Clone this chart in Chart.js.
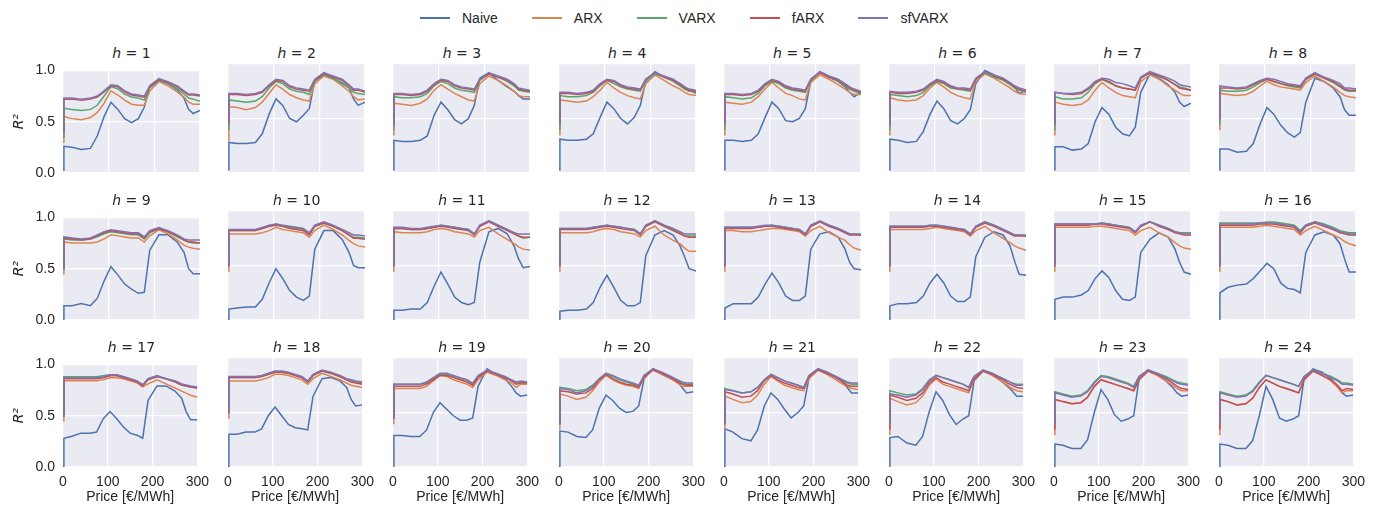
<!DOCTYPE html>
<html>
<head>
<meta charset="utf-8">
<script src="https://cdn.jsdelivr.net/npm/chart.js@4.4.0/dist/chart.umd.min.js"></script>
<style>
  body { margin: 0; background: #fff; width: 1387px; height: 512px; position: relative; overflow: hidden;
         font-family: "Liberation Sans", Arial, sans-serif; color: #262626; }
  canvas { position: absolute; }
  .ttl { position: absolute; width: 137px; text-align: center; font-family: "DejaVu Sans"; font-size: 14px; line-height: 16px; color: #262626; }
  #legend { position: absolute; left: 420px; top: 9px; display: flex; align-items: center; font-size: 14px; line-height: 18px; }
  .item { display: flex; align-items: center; margin-right: 34px; }
  .swatch { width: 30px; height: 2px; margin-right: 12px; }
</style>
</head>
<body>
<div id="legend"></div>
<script>
// prices on the x axis, horizons, models and ticks
var prices = [0, 2, 20, 40, 60, 75, 90, 105, 120, 135, 150, 165, 178, 190, 210, 230, 250, 265, 275, 285, 300];
var horizons = [1, 2, 3, 4, 5, 6, 7, 8, 9, 10, 11, 12, 13, 14, 15, 16, 17, 18, 19, 20, 21, 22, 23, 24];
var models = ["Naive", "ARX", "VARX", "fARX", "sfVARX"];
var colors = ["#4c72b0", "#dd8452", "#55a868", "#c44e52", "#8172b3"];
var xTicks = [0, 100, 200, 300];
var yTicks = [0, 0.5, 1];

// R^2 per horizon, one row per h
var naive = [
  [0.03,0.26,0.25,0.23,0.24,0.36,0.55,0.69,0.62,0.53,0.49,0.53,0.64,0.85,0.91,0.87,0.81,0.73,0.62,0.58,0.61],
  [0.03,0.28,0.27,0.27,0.28,0.36,0.54,0.68,0.62,0.50,0.47,0.53,0.59,0.85,0.92,0.87,0.82,0.78,0.68,0.62,0.65],
  [0.03,0.30,0.29,0.29,0.30,0.34,0.53,0.65,0.58,0.49,0.45,0.50,0.62,0.87,0.92,0.85,0.79,0.75,0.71,0.68,0.68],
  [0.03,0.31,0.30,0.30,0.31,0.36,0.51,0.65,0.59,0.50,0.45,0.51,0.62,0.84,0.93,0.88,0.85,0.82,0.79,0.76,0.73],
  [0.03,0.30,0.30,0.29,0.30,0.36,0.51,0.65,0.59,0.48,0.47,0.50,0.59,0.84,0.93,0.88,0.84,0.79,0.74,0.70,0.74],
  [0.03,0.31,0.30,0.28,0.29,0.38,0.54,0.66,0.59,0.48,0.45,0.50,0.58,0.82,0.94,0.90,0.86,0.82,0.79,0.73,0.76],
  [0.03,0.24,0.24,0.21,0.22,0.27,0.47,0.60,0.54,0.42,0.36,0.34,0.42,0.74,0.91,0.87,0.81,0.74,0.65,0.61,0.64],
  [0.03,0.22,0.22,0.19,0.20,0.27,0.45,0.60,0.54,0.44,0.37,0.33,0.37,0.65,0.87,0.84,0.78,0.70,0.58,0.53,0.53],
  [0.00,0.14,0.14,0.16,0.14,0.21,0.38,0.52,0.44,0.35,0.30,0.26,0.27,0.68,0.83,0.83,0.76,0.66,0.50,0.45,0.45],
  [0.00,0.10,0.11,0.12,0.12,0.19,0.34,0.47,0.38,0.27,0.21,0.18,0.22,0.65,0.82,0.82,0.74,0.62,0.50,0.48,0.48],
  [0.00,0.09,0.09,0.10,0.10,0.16,0.31,0.44,0.33,0.21,0.16,0.14,0.16,0.53,0.81,0.84,0.79,0.68,0.56,0.48,0.49],
  [0.00,0.08,0.09,0.09,0.10,0.16,0.30,0.41,0.30,0.18,0.13,0.13,0.16,0.59,0.78,0.82,0.78,0.68,0.58,0.47,0.45],
  [0.00,0.11,0.15,0.15,0.15,0.21,0.33,0.43,0.34,0.22,0.18,0.18,0.22,0.65,0.79,0.81,0.76,0.65,0.53,0.47,0.46],
  [0.00,0.13,0.15,0.15,0.16,0.22,0.34,0.42,0.34,0.22,0.17,0.17,0.21,0.58,0.76,0.81,0.78,0.68,0.54,0.42,0.41],
  [0.00,0.19,0.21,0.21,0.23,0.27,0.38,0.45,0.39,0.27,0.19,0.18,0.21,0.62,0.74,0.80,0.76,0.65,0.53,0.44,0.42],
  [0.00,0.25,0.30,0.32,0.33,0.38,0.45,0.52,0.47,0.34,0.29,0.28,0.25,0.62,0.78,0.81,0.78,0.70,0.56,0.44,0.44],
  [0.00,0.28,0.30,0.33,0.33,0.34,0.47,0.54,0.47,0.39,0.33,0.31,0.28,0.65,0.79,0.79,0.74,0.67,0.54,0.46,0.46],
  [0.00,0.30,0.30,0.32,0.32,0.35,0.47,0.55,0.47,0.39,0.36,0.35,0.34,0.65,0.81,0.82,0.79,0.73,0.62,0.56,0.57],
  [0.00,0.29,0.29,0.28,0.28,0.34,0.50,0.59,0.53,0.47,0.43,0.43,0.45,0.74,0.90,0.85,0.81,0.74,0.68,0.65,0.66],
  [0.00,0.33,0.32,0.28,0.27,0.34,0.54,0.66,0.61,0.54,0.50,0.51,0.56,0.81,0.90,0.85,0.81,0.78,0.73,0.68,0.69],
  [0.00,0.35,0.32,0.26,0.24,0.34,0.56,0.68,0.62,0.53,0.45,0.50,0.56,0.82,0.90,0.87,0.82,0.78,0.73,0.68,0.68],
  [0.00,0.27,0.28,0.22,0.20,0.28,0.51,0.69,0.61,0.48,0.39,0.44,0.47,0.79,0.88,0.85,0.79,0.74,0.70,0.65,0.65],
  [0.00,0.21,0.20,0.17,0.17,0.25,0.50,0.71,0.62,0.48,0.42,0.44,0.47,0.81,0.89,0.85,0.79,0.73,0.68,0.65,0.66],
  [0.00,0.21,0.20,0.17,0.17,0.24,0.47,0.74,0.62,0.45,0.42,0.44,0.47,0.81,0.90,0.87,0.81,0.74,0.68,0.65,0.66]
];
var arx = [
  [0.30,0.55,0.53,0.52,0.54,0.59,0.68,0.80,0.76,0.71,0.67,0.66,0.66,0.80,0.89,0.85,0.79,0.74,0.69,0.67,0.67],
  [0.30,0.61,0.60,0.58,0.60,0.65,0.73,0.81,0.77,0.72,0.69,0.67,0.66,0.82,0.89,0.86,0.80,0.75,0.70,0.67,0.68],
  [0.35,0.64,0.63,0.62,0.64,0.68,0.76,0.81,0.77,0.73,0.70,0.67,0.66,0.82,0.89,0.85,0.80,0.75,0.71,0.70,0.70],
  [0.35,0.67,0.66,0.65,0.66,0.70,0.76,0.83,0.78,0.74,0.71,0.69,0.68,0.82,0.90,0.85,0.80,0.77,0.74,0.72,0.71],
  [0.35,0.65,0.64,0.63,0.65,0.70,0.77,0.83,0.78,0.73,0.71,0.68,0.67,0.83,0.90,0.86,0.81,0.77,0.74,0.72,0.72],
  [0.35,0.69,0.67,0.66,0.67,0.71,0.78,0.83,0.79,0.74,0.71,0.69,0.68,0.84,0.91,0.87,0.82,0.78,0.75,0.73,0.72],
  [0.35,0.65,0.63,0.62,0.63,0.67,0.76,0.83,0.78,0.74,0.71,0.70,0.69,0.84,0.90,0.86,0.80,0.76,0.73,0.71,0.71],
  [0.40,0.73,0.72,0.71,0.72,0.75,0.80,0.84,0.81,0.79,0.78,0.77,0.76,0.83,0.89,0.84,0.79,0.74,0.71,0.70,0.69],
  [0.45,0.76,0.75,0.75,0.75,0.76,0.79,0.83,0.82,0.81,0.80,0.80,0.76,0.82,0.88,0.84,0.78,0.73,0.71,0.70,0.69],
  [0.45,0.79,0.79,0.79,0.79,0.80,0.82,0.85,0.83,0.82,0.81,0.80,0.76,0.82,0.87,0.83,0.78,0.73,0.70,0.68,0.67],
  [0.45,0.81,0.80,0.80,0.80,0.81,0.83,0.84,0.83,0.81,0.80,0.79,0.76,0.82,0.85,0.79,0.74,0.70,0.67,0.65,0.64],
  [0.45,0.80,0.80,0.80,0.80,0.81,0.83,0.84,0.83,0.81,0.80,0.79,0.76,0.82,0.86,0.78,0.73,0.70,0.66,0.63,0.63],
  [0.45,0.82,0.82,0.81,0.81,0.82,0.83,0.84,0.84,0.83,0.82,0.81,0.77,0.82,0.86,0.80,0.76,0.73,0.69,0.66,0.64],
  [0.45,0.83,0.83,0.83,0.83,0.83,0.84,0.85,0.84,0.83,0.82,0.81,0.77,0.82,0.86,0.80,0.75,0.71,0.68,0.66,0.64],
  [0.45,0.85,0.85,0.85,0.85,0.85,0.86,0.86,0.85,0.84,0.83,0.82,0.78,0.82,0.85,0.80,0.76,0.71,0.68,0.66,0.65],
  [0.45,0.85,0.85,0.85,0.85,0.85,0.86,0.87,0.86,0.85,0.84,0.83,0.78,0.82,0.86,0.82,0.78,0.75,0.72,0.70,0.68],
  [0.45,0.84,0.84,0.84,0.84,0.84,0.85,0.87,0.87,0.86,0.84,0.82,0.78,0.81,0.85,0.81,0.77,0.74,0.72,0.70,0.68],
  [0.45,0.79,0.79,0.79,0.79,0.80,0.82,0.85,0.85,0.84,0.82,0.80,0.76,0.81,0.86,0.83,0.80,0.77,0.75,0.74,0.73],
  [0.40,0.72,0.72,0.72,0.72,0.74,0.79,0.84,0.83,0.80,0.78,0.76,0.73,0.80,0.87,0.84,0.80,0.77,0.73,0.76,0.76],
  [0.35,0.67,0.65,0.62,0.64,0.70,0.78,0.84,0.80,0.77,0.75,0.74,0.72,0.82,0.89,0.85,0.81,0.77,0.74,0.74,0.74],
  [0.35,0.65,0.62,0.59,0.60,0.66,0.76,0.83,0.79,0.75,0.73,0.71,0.70,0.81,0.89,0.85,0.80,0.76,0.74,0.72,0.71],
  [0.30,0.63,0.60,0.57,0.59,0.65,0.75,0.81,0.76,0.74,0.72,0.70,0.68,0.80,0.88,0.84,0.79,0.75,0.72,0.70,0.69],
  [0.30,0.62,0.60,0.58,0.59,0.64,0.74,0.80,0.78,0.76,0.74,0.72,0.70,0.80,0.88,0.84,0.79,0.75,0.72,0.70,0.70],
  [0.30,0.62,0.60,0.57,0.58,0.63,0.73,0.80,0.77,0.74,0.72,0.70,0.68,0.80,0.88,0.84,0.79,0.73,0.68,0.70,0.70]
];
var varx = [
  [0.35,0.63,0.62,0.61,0.62,0.66,0.75,0.84,0.82,0.77,0.74,0.73,0.71,0.83,0.90,0.87,0.82,0.77,0.73,0.72,0.70],
  [0.40,0.67,0.66,0.65,0.66,0.70,0.78,0.84,0.82,0.77,0.75,0.74,0.72,0.84,0.90,0.87,0.83,0.78,0.74,0.73,0.72],
  [0.40,0.70,0.69,0.69,0.70,0.73,0.80,0.84,0.82,0.78,0.76,0.75,0.74,0.85,0.91,0.88,0.84,0.80,0.76,0.75,0.74],
  [0.40,0.71,0.70,0.70,0.71,0.74,0.80,0.85,0.82,0.79,0.77,0.76,0.75,0.85,0.91,0.88,0.84,0.80,0.77,0.75,0.74],
  [0.40,0.70,0.69,0.68,0.69,0.73,0.80,0.84,0.82,0.78,0.76,0.75,0.74,0.85,0.92,0.88,0.84,0.80,0.77,0.75,0.73],
  [0.40,0.72,0.71,0.70,0.71,0.74,0.80,0.84,0.82,0.78,0.77,0.76,0.75,0.86,0.92,0.88,0.85,0.81,0.78,0.76,0.74],
  [0.40,0.70,0.68,0.68,0.69,0.74,0.82,0.86,0.83,0.80,0.78,0.77,0.76,0.87,0.92,0.89,0.85,0.81,0.79,0.78,0.76],
  [0.45,0.76,0.75,0.75,0.76,0.79,0.83,0.86,0.84,0.82,0.80,0.79,0.78,0.86,0.91,0.87,0.83,0.79,0.76,0.75,0.75],
  [0.50,0.79,0.78,0.78,0.79,0.81,0.84,0.86,0.85,0.84,0.83,0.83,0.79,0.85,0.89,0.86,0.81,0.78,0.76,0.75,0.75],
  [0.50,0.82,0.82,0.82,0.82,0.84,0.86,0.88,0.86,0.85,0.84,0.83,0.79,0.86,0.89,0.86,0.82,0.78,0.76,0.76,0.75],
  [0.50,0.84,0.84,0.83,0.83,0.84,0.85,0.87,0.86,0.85,0.84,0.83,0.79,0.86,0.91,0.87,0.83,0.80,0.77,0.75,0.76],
  [0.50,0.84,0.84,0.84,0.84,0.85,0.86,0.87,0.86,0.85,0.84,0.83,0.79,0.86,0.91,0.87,0.83,0.80,0.77,0.77,0.77],
  [0.50,0.85,0.85,0.85,0.85,0.85,0.86,0.87,0.86,0.85,0.84,0.83,0.79,0.86,0.90,0.87,0.84,0.81,0.79,0.79,0.78],
  [0.50,0.86,0.86,0.86,0.86,0.86,0.87,0.87,0.86,0.85,0.84,0.83,0.79,0.86,0.90,0.87,0.83,0.80,0.78,0.78,0.77],
  [0.50,0.88,0.88,0.88,0.88,0.88,0.88,0.89,0.88,0.87,0.86,0.85,0.81,0.86,0.90,0.87,0.84,0.81,0.80,0.80,0.80],
  [0.50,0.89,0.89,0.89,0.89,0.89,0.89,0.90,0.90,0.89,0.88,0.87,0.82,0.87,0.90,0.88,0.85,0.82,0.81,0.80,0.80],
  [0.50,0.88,0.88,0.88,0.88,0.88,0.89,0.90,0.90,0.88,0.86,0.84,0.80,0.86,0.89,0.86,0.83,0.80,0.79,0.78,0.77],
  [0.50,0.82,0.82,0.82,0.82,0.83,0.85,0.87,0.87,0.86,0.84,0.82,0.78,0.84,0.88,0.86,0.83,0.80,0.79,0.78,0.77],
  [0.45,0.76,0.76,0.76,0.76,0.77,0.81,0.85,0.85,0.83,0.81,0.80,0.76,0.83,0.88,0.86,0.82,0.79,0.77,0.78,0.77],
  [0.40,0.73,0.72,0.70,0.71,0.75,0.81,0.86,0.83,0.80,0.78,0.76,0.74,0.84,0.90,0.86,0.82,0.79,0.77,0.76,0.76],
  [0.40,0.72,0.70,0.68,0.69,0.73,0.80,0.85,0.82,0.79,0.77,0.75,0.73,0.84,0.90,0.87,0.83,0.79,0.77,0.76,0.76],
  [0.40,0.70,0.68,0.66,0.67,0.72,0.80,0.84,0.82,0.80,0.78,0.76,0.73,0.83,0.89,0.86,0.82,0.79,0.77,0.76,0.76],
  [0.40,0.69,0.67,0.65,0.66,0.70,0.78,0.84,0.83,0.81,0.79,0.77,0.74,0.83,0.89,0.86,0.83,0.80,0.78,0.77,0.76],
  [0.40,0.69,0.67,0.65,0.66,0.70,0.78,0.84,0.82,0.80,0.78,0.76,0.74,0.83,0.89,0.86,0.83,0.80,0.77,0.77,0.76]
];
var farx = [
  [0.40,0.72,0.72,0.71,0.72,0.74,0.79,0.85,0.84,0.79,0.76,0.75,0.74,0.84,0.91,0.88,0.84,0.79,0.76,0.76,0.75],
  [0.45,0.72,0.72,0.71,0.72,0.74,0.80,0.85,0.84,0.79,0.77,0.76,0.75,0.85,0.91,0.88,0.85,0.80,0.76,0.76,0.74],
  [0.45,0.72,0.72,0.71,0.72,0.75,0.81,0.85,0.84,0.80,0.78,0.77,0.76,0.86,0.91,0.88,0.85,0.81,0.77,0.76,0.75],
  [0.45,0.73,0.73,0.72,0.73,0.75,0.81,0.85,0.84,0.80,0.78,0.77,0.76,0.86,0.92,0.88,0.85,0.81,0.78,0.76,0.75],
  [0.45,0.72,0.72,0.71,0.72,0.75,0.81,0.85,0.83,0.79,0.77,0.76,0.75,0.86,0.92,0.88,0.85,0.81,0.78,0.76,0.74],
  [0.45,0.74,0.73,0.73,0.74,0.76,0.81,0.85,0.83,0.79,0.77,0.77,0.76,0.86,0.93,0.89,0.86,0.82,0.79,0.77,0.75],
  [0.45,0.74,0.73,0.72,0.73,0.77,0.83,0.86,0.84,0.80,0.78,0.77,0.76,0.87,0.92,0.89,0.85,0.81,0.78,0.77,0.76],
  [0.50,0.78,0.78,0.77,0.78,0.81,0.84,0.86,0.84,0.82,0.81,0.80,0.79,0.86,0.91,0.87,0.84,0.80,0.77,0.76,0.76],
  [0.50,0.80,0.79,0.78,0.79,0.82,0.85,0.87,0.86,0.85,0.84,0.84,0.80,0.86,0.89,0.86,0.82,0.78,0.76,0.76,0.75],
  [0.50,0.82,0.82,0.82,0.82,0.84,0.86,0.87,0.86,0.84,0.83,0.82,0.78,0.86,0.89,0.86,0.82,0.78,0.75,0.75,0.74],
  [0.50,0.84,0.84,0.83,0.83,0.84,0.85,0.86,0.85,0.84,0.83,0.82,0.78,0.86,0.90,0.86,0.82,0.79,0.77,0.76,0.76],
  [0.50,0.83,0.83,0.83,0.83,0.84,0.85,0.86,0.85,0.84,0.83,0.82,0.78,0.86,0.90,0.86,0.82,0.79,0.77,0.76,0.76],
  [0.50,0.84,0.84,0.84,0.84,0.85,0.86,0.86,0.85,0.84,0.83,0.82,0.78,0.86,0.90,0.86,0.83,0.80,0.78,0.78,0.78],
  [0.50,0.85,0.85,0.85,0.85,0.85,0.86,0.86,0.85,0.84,0.83,0.82,0.78,0.85,0.89,0.86,0.82,0.79,0.77,0.77,0.77],
  [0.50,0.87,0.87,0.87,0.87,0.87,0.88,0.88,0.87,0.86,0.85,0.84,0.80,0.86,0.90,0.86,0.83,0.80,0.79,0.78,0.78],
  [0.50,0.87,0.87,0.87,0.87,0.87,0.88,0.88,0.88,0.87,0.86,0.85,0.80,0.86,0.89,0.86,0.83,0.80,0.79,0.78,0.78],
  [0.50,0.86,0.86,0.86,0.86,0.86,0.87,0.89,0.89,0.87,0.85,0.83,0.79,0.85,0.88,0.86,0.83,0.80,0.79,0.78,0.77],
  [0.50,0.82,0.82,0.82,0.82,0.83,0.85,0.87,0.87,0.86,0.84,0.82,0.78,0.84,0.88,0.86,0.83,0.80,0.78,0.77,0.76],
  [0.45,0.74,0.74,0.74,0.74,0.76,0.80,0.84,0.84,0.82,0.80,0.78,0.75,0.82,0.88,0.85,0.82,0.79,0.76,0.77,0.77],
  [0.40,0.70,0.69,0.67,0.68,0.72,0.80,0.85,0.81,0.78,0.76,0.75,0.73,0.83,0.89,0.86,0.82,0.78,0.76,0.75,0.75],
  [0.40,0.69,0.67,0.64,0.65,0.70,0.79,0.84,0.80,0.77,0.75,0.73,0.72,0.83,0.89,0.86,0.82,0.78,0.75,0.74,0.74],
  [0.35,0.66,0.64,0.61,0.63,0.68,0.77,0.82,0.78,0.76,0.74,0.72,0.70,0.81,0.88,0.85,0.81,0.77,0.75,0.73,0.72],
  [0.35,0.62,0.60,0.58,0.59,0.64,0.74,0.80,0.78,0.76,0.74,0.72,0.70,0.80,0.88,0.85,0.81,0.77,0.74,0.72,0.71],
  [0.35,0.62,0.60,0.57,0.58,0.63,0.73,0.80,0.77,0.74,0.72,0.70,0.68,0.80,0.88,0.84,0.80,0.75,0.70,0.72,0.71]
];
var sfvarx = [
  [0.42,0.73,0.73,0.72,0.73,0.75,0.80,0.86,0.85,0.80,0.77,0.76,0.75,0.85,0.92,0.89,0.85,0.80,0.77,0.77,0.76],
  [0.45,0.73,0.73,0.72,0.73,0.75,0.81,0.86,0.85,0.80,0.78,0.77,0.76,0.86,0.92,0.89,0.86,0.81,0.77,0.77,0.75],
  [0.45,0.73,0.73,0.72,0.73,0.76,0.82,0.86,0.85,0.81,0.79,0.78,0.77,0.86,0.92,0.89,0.86,0.82,0.78,0.77,0.76],
  [0.45,0.74,0.74,0.73,0.74,0.76,0.82,0.86,0.85,0.81,0.79,0.78,0.77,0.86,0.92,0.89,0.86,0.82,0.79,0.77,0.76],
  [0.45,0.73,0.73,0.72,0.73,0.76,0.82,0.86,0.84,0.80,0.78,0.77,0.76,0.86,0.93,0.89,0.86,0.82,0.79,0.77,0.75],
  [0.45,0.75,0.74,0.74,0.75,0.77,0.82,0.86,0.84,0.80,0.78,0.78,0.77,0.87,0.93,0.90,0.87,0.83,0.80,0.78,0.76],
  [0.45,0.74,0.73,0.73,0.74,0.78,0.84,0.87,0.86,0.83,0.82,0.80,0.78,0.88,0.93,0.90,0.87,0.84,0.81,0.80,0.79],
  [0.50,0.80,0.79,0.78,0.79,0.82,0.85,0.87,0.86,0.84,0.82,0.81,0.80,0.87,0.92,0.88,0.85,0.82,0.78,0.78,0.77],
  [0.50,0.81,0.80,0.79,0.80,0.83,0.86,0.88,0.87,0.86,0.85,0.85,0.81,0.87,0.90,0.87,0.83,0.79,0.78,0.78,0.78],
  [0.50,0.83,0.83,0.83,0.83,0.85,0.87,0.88,0.87,0.86,0.85,0.84,0.80,0.87,0.90,0.87,0.83,0.80,0.78,0.78,0.77],
  [0.50,0.85,0.85,0.84,0.84,0.85,0.86,0.87,0.86,0.85,0.84,0.83,0.79,0.87,0.91,0.87,0.83,0.80,0.79,0.79,0.79],
  [0.50,0.84,0.84,0.84,0.84,0.85,0.86,0.87,0.86,0.85,0.84,0.83,0.79,0.87,0.91,0.87,0.84,0.81,0.79,0.79,0.79],
  [0.50,0.85,0.85,0.85,0.85,0.86,0.87,0.87,0.86,0.85,0.84,0.83,0.79,0.87,0.91,0.87,0.84,0.81,0.79,0.79,0.79],
  [0.50,0.86,0.86,0.86,0.86,0.86,0.87,0.87,0.86,0.85,0.84,0.83,0.79,0.86,0.90,0.87,0.83,0.80,0.78,0.78,0.78],
  [0.50,0.88,0.88,0.88,0.88,0.88,0.88,0.89,0.88,0.87,0.86,0.85,0.81,0.87,0.90,0.87,0.84,0.81,0.80,0.79,0.79],
  [0.50,0.88,0.88,0.88,0.88,0.88,0.89,0.89,0.89,0.88,0.87,0.86,0.81,0.87,0.90,0.87,0.84,0.81,0.80,0.79,0.79],
  [0.50,0.87,0.87,0.87,0.87,0.87,0.88,0.90,0.90,0.88,0.86,0.84,0.80,0.86,0.89,0.86,0.84,0.81,0.80,0.79,0.78],
  [0.50,0.83,0.83,0.83,0.83,0.84,0.86,0.88,0.88,0.87,0.85,0.83,0.79,0.85,0.89,0.87,0.84,0.81,0.80,0.79,0.78],
  [0.45,0.76,0.76,0.76,0.76,0.78,0.82,0.86,0.86,0.84,0.82,0.80,0.77,0.84,0.89,0.86,0.83,0.80,0.78,0.79,0.78],
  [0.40,0.72,0.71,0.68,0.70,0.74,0.81,0.86,0.84,0.81,0.79,0.77,0.75,0.84,0.90,0.87,0.83,0.80,0.78,0.77,0.77],
  [0.40,0.71,0.70,0.68,0.69,0.73,0.80,0.85,0.82,0.79,0.77,0.75,0.73,0.84,0.90,0.87,0.83,0.80,0.78,0.77,0.77],
  [0.40,0.67,0.66,0.64,0.66,0.71,0.79,0.84,0.82,0.80,0.78,0.76,0.73,0.83,0.89,0.86,0.82,0.79,0.77,0.75,0.75],
  [0.40,0.68,0.66,0.64,0.65,0.69,0.77,0.83,0.82,0.80,0.78,0.76,0.73,0.83,0.89,0.86,0.82,0.79,0.77,0.76,0.75],
  [0.40,0.68,0.66,0.64,0.65,0.69,0.77,0.84,0.82,0.80,0.78,0.76,0.74,0.83,0.89,0.86,0.82,0.79,0.76,0.76,0.75]
];

var series = [naive, arx, varx, farx, sfvarx];

// grid geometry (plot areas)
var colLeft0 = 63, colStep = 165.2, plotW = 137, plotH = 109;
var rowTops = [64, 211, 358];
var padL = 63, padT = 10, padR = 16, padB = 45;

// legend
var legend = document.getElementById("legend");
models.forEach(function (m, i) {
  var it = document.createElement("div");
  it.className = "item";
  it.innerHTML = '<span class="swatch" style="background:' + colors[i] + '"></span><span>' + m + '</span>';
  legend.appendChild(it);
});

// panel background
var bgPlugin = {
  id: "bg",
  beforeDraw: function (c) {
    var a = c.chartArea, ctx = c.ctx;
    ctx.save();
    ctx.fillStyle = "#eaeaf2";
    ctx.fillRect(a.left, a.top, a.right - a.left, a.bottom - a.top);
    ctx.restore();
  }
};

var tickFont = { family: "Liberation Sans", size: 14 };

horizons.forEach(function (h, k) {
  var row = Math.floor(k / 8), col = k % 8;
  var left = colLeft0 + col * colStep;

  var t = document.createElement("div");
  t.className = "ttl";
  t.style.left = left + "px";
  t.style.top = (rowTops[row] - 19) + "px";
  t.innerHTML = "<i>h</i> = " + h;
  document.body.appendChild(t);

  var cv = document.createElement("canvas");
  cv.width = padL + plotW + padR;
  cv.height = padT + plotH + padB;
  cv.style.left = (left - padL) + "px";
  cv.style.top = (rowTops[row] - padT) + "px";
  document.body.appendChild(cv);

  var datasets = series.map(function (s, i) {
    return {
      label: models[i],
      data: s[k].map(function (v, j) { return { x: prices[j], y: v }; }),
      borderColor: colors[i],
      borderWidth: 1.5,
      pointRadius: 0,
      fill: false,
      tension: 0,
      order: models.length - i
    };
  });

  new Chart(cv, {
    type: "line",
    data: { datasets: datasets },
    options: {
      responsive: false,
      animation: false,
      events: [],
      layout: { padding: { top: padT, right: padR, left: 0, bottom: 0 } },
      plugins: { legend: { display: false }, tooltip: { enabled: false } },
      scales: {
        x: {
          type: "linear", min: 0, max: 300,
          afterBuildTicks: function (s) { s.ticks = xTicks.map(function (v) { return { value: v }; }); },
          afterFit: function (s) { s.height = padB; },
          grid: { color: "#ffffff", lineWidth: 1.2, drawTicks: false },
          border: { display: false },
          ticks: { display: row === 2, padding: 7, color: "#262626", font: tickFont, maxRotation: 0 },
          title: { display: row === 2, text: "Price [€/MWh]", color: "#262626", font: tickFont, padding: { top: 0, bottom: 6 } }
        },
        y: {
          min: 0, max: 1,
          afterBuildTicks: function (s) { s.ticks = yTicks.map(function (v) { return { value: v }; }); },
          afterFit: function (s) { s.width = padL; },
          grid: { color: "#ffffff", lineWidth: 1.2, drawTicks: false },
          border: { display: false },
          ticks: { display: col === 0, padding: 8, color: "#262626", font: tickFont,
                   callback: function (v) { return v.toFixed(1); } },
          title: { display: col === 0, text: "R²", color: "#262626",
                   font: { family: "DejaVu Sans", size: 14, style: "italic" }, padding: { top: 11, bottom: 0 } }
        }
      }
    },
    plugins: [bgPlugin]
  });
});
</script>
</body>
</html>
